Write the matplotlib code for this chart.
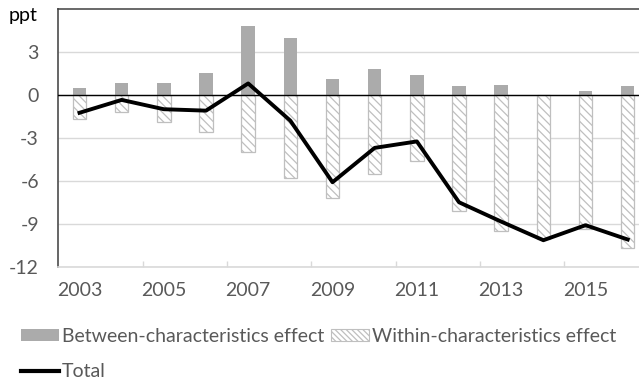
import matplotlib
matplotlib.use("Agg")
import matplotlib.pyplot as plt
from matplotlib.patches import Patch
from matplotlib.lines import Line2D

# data (ppt)
years = list(range(2003, 2017))
between = [0.5, 0.8, 0.8, 1.5, 4.8, 4.0, 1.1, 1.8, 1.4, 0.65, 0.7, 0.0, 0.3, 0.6]
within = [-1.7, -1.2, -1.9, -2.6, -4.0, -5.8, -7.2, -5.5, -4.6, -8.1, -9.5, -10.1, -9.4, -10.7]
total = [-1.25, -0.35, -1.0, -1.1, 0.8, -1.8, -6.1, -3.7, -3.25, -7.5, -8.85, -10.15, -9.1, -10.1]
yticks = [-12, -9, -6, -3, 0, 3]

plt.rcParams['font.family'] = ['Lato', 'DejaVu Sans']
plt.rcParams['hatch.linewidth'] = 0.9

TEXT = '#595959'
GRID = '#d9d9d9'
FS = 14

W, H = 639, 383
fig = plt.figure(figsize=(W / 100, H / 100), dpi=100)
# axes run a little past the right edge, as in the cropped original
ax = fig.add_axes([58.4 / W, (H - 266.7) / H, 590.4 / W, 257.7 / H])

x = list(range(len(years)))
ax.bar(x, between, width=0.32, color='#ababab', zorder=2)
ax.bar(x, within, width=0.32, color='white', edgecolor='#bfbfbf',
       linewidth=0.9, hatch='\\\\\\\\', zorder=2)
ax.axhline(0, color='black', lw=1.0, zorder=3)
ax.plot(x, total, color='black', lw=2.8, solid_joinstyle='round', zorder=4)

ax.set_xlim(-0.5, len(years) - 0.5)
ax.set_ylim(-12, 6)

ax.set_yticks(yticks)
ax.set_yticklabels([str(v) for v in yticks])
ax.tick_params(axis='y', length=0, pad=14, labelsize=FS, labelcolor=TEXT)
ax.grid(axis='y', color=GRID, lw=1.0, zorder=0)
ax.set_axisbelow(True)

# category labels every second year, tick marks between pairs
ax.set_xticks([i + 0.5 for i in x[1::2]])
ax.set_xticklabels([])
ax.set_xticks(x[::2], minor=True)
ax.set_xticklabels([str(y) for y in years[::2]], minor=True)
ax.tick_params(axis='x', which='major', direction='in', length=4, width=1,
               color=GRID)
ax.tick_params(axis='x', which='minor', length=0, pad=11, labelsize=FS,
               labelcolor=TEXT)

ax.spines['bottom'].set_color(GRID)
ax.spines['bottom'].set_linewidth(1.2)
ax.spines['left'].set_color('#595959')
ax.spines['left'].set_linewidth(1.3)
ax.spines['top'].set_color('#404040')
ax.spines['top'].set_linewidth(1.1)
ax.spines['right'].set_visible(False)

fig.text(38 / W, 1 - 16 / H, 'ppt', ha='right', va='center', fontsize=FS,
         color='black')

handles = [
    Patch(facecolor='#ababab', edgecolor='none', label='Between-characteristics effect'),
    Line2D([], [], color='black', lw=3, label='Total'),
    Patch(facecolor='white', edgecolor='#bfbfbf', hatch='\\\\\\\\\\\\',
          lw=0.8, label='Within-characteristics effect'),
]
fig.legend(handles=handles, ncol=2, loc='upper left',
           bbox_to_anchor=(21 / W, 1 - 328 / H), frameon=False,
           fontsize=FS, labelcolor=TEXT, handlelength=1.95, handleheight=0.62,
           handletextpad=0.15, columnspacing=0.35, borderpad=0, borderaxespad=0,
           labelspacing=0.95)

fig.savefig('out.png', dpi=100)
